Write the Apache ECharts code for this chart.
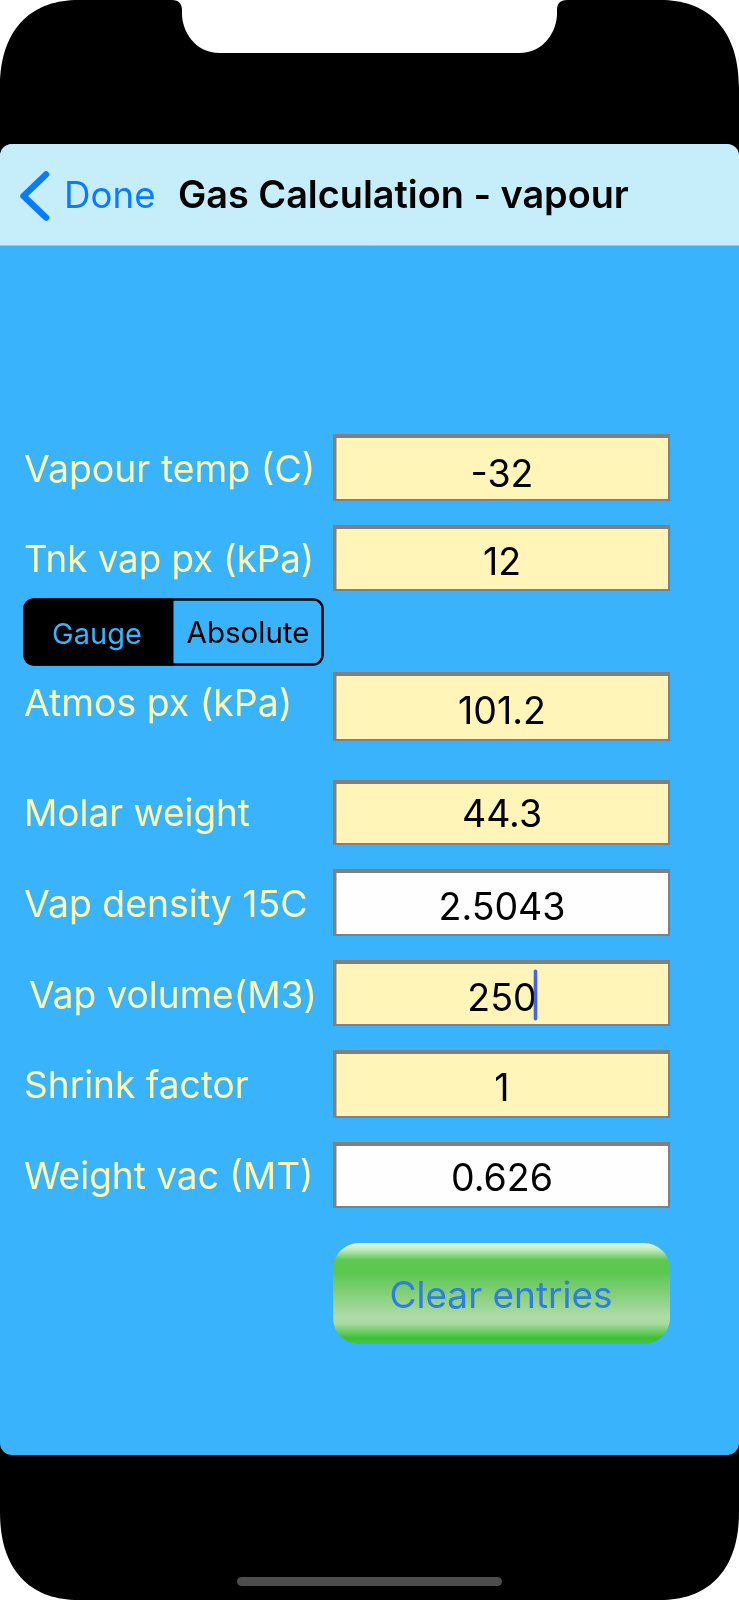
<!DOCTYPE html>
<html><head><meta charset="utf-8">
<style>html,body{margin:0;padding:0;background:#fff}#c{width:739px;height:1600px}</style>
<script src="https://cdn.jsdelivr.net/npm/echarts@6/dist/echarts.min.js"></script>
</head><body><div id="c"></div>
<script>
const labels = ["Vapour temp (C)","Tnk vap px (kPa)","Atmos px (kPa)","Molar weight","Vap density 15C","Vap volume(M3)","Shrink factor","Weight vac (MT)"];
const values = ["-32","12","101.2","44.3","2.5043","250","1","0.626"];
const computed = [false,false,false,false,true,false,false,true];
const segments = ["Gauge","Absolute"];
const title = "Gas Calculation - vapour";
const back = "Done";
const action = "Clear entries";

// layout of the rows, separate from the content above
const labelX = [24,24,24,24,24,29,24,24];
const labelFit = [1,0.98,1,0.987,1,0.99,0.99,0.99];
const labelY = [471,561,705,815,906,997,1087,1178];
const valueY = [476,564,713,816,909,1000,1090,1180];
const fieldTop = [434,525,672,780,869,960,1050,1142];
const fieldBottom = [501,591,741,845,936,1026,1118,1208];

const FONT = "Inter, 'Noto Sans', sans-serif";
echarts.graphic.registerShape("phone", echarts.graphic.extendPath(
 "M78 0L172 0C179 0 182 4 182 10L182 14C182 30 194 53 220 53L519 53C545 53 557 30 557 14L557 10C557 4 560 0 567 0L661 0C703 0 739 24 739 88L739 1512C739 1576 703 1600 661 1600L78 1600C36 1600 0 1576 0 1512L0 88C0 24 36 0 78 0Z",{}));

const txt=(text,x,y,size,fill,align,weight,sx)=>({type:"text",x,y,scaleX:sx||1,silent:true,style:{text,fill,fontFamily:FONT,fontSize:size,fontWeight:weight||400,align:align||"left",verticalAlign:"middle"}});
const els=[];
els.push({type:"phone",x:0,y:0,style:{fill:"#000"}});
els.push({type:"rect",shape:{x:0,y:144,width:739,height:1311,r:[12,12,12,12]},style:{fill:"#3ab3fd"}});
els.push({type:"rect",shape:{x:0,y:144,width:739,height:102,r:[12,12,0,0]},style:{fill:"#c6eefa"}});
els.push({type:"line",shape:{x1:0,y1:246,x2:739,y2:246},style:{stroke:"#58a9d8",lineWidth:1}});
els.push({type:"polyline",shape:{points:[[46,174.5],[23.5,196],[46,217.5]]},style:{stroke:"#0a7bff",lineWidth:6.5,lineCap:"round",lineJoin:"round",fill:null}});
els.push(txt(back,64,197,36.7,"#0a7bff"));
els.push(txt(title,178,197,37.8,"#000","left",600));
labels.forEach((l,i)=>{
  els.push(txt(l,labelX[i],labelY[i],37.4,"#fdf6b5","left",400,labelFit[i]));
  const t=fieldTop[i],b=fieldBottom[i];
  els.push({type:"rect",shape:{x:333,y:t,width:337,height:b-t},style:{fill:"#808080"}});
  els.push({type:"rect",shape:{x:336.5,y:t+4,width:331.5,height:b-t-6},style:{fill:computed[i]?"#fefefe":"#fff5b8"}});
  els.push(txt(values[i],502,valueY[i],37.5,"#000","center"));
});
els.push({type:"rect",shape:{x:533.7,y:969.5,width:3.6,height:51,r:1.8},style:{fill:"#4565e0"}});
els.push({type:"rect",shape:{x:24.5,y:599.5,width:298,height:65,r:9},style:{fill:"#3ab3fd",stroke:"#000",lineWidth:2.5}});
els.push({type:"rect",shape:{x:23.5,y:598.5,width:150,height:67,r:[10,0,0,10]},style:{fill:"#000"}});
els.push(txt(segments[0],97,635,29,"#3ab3fd","center"));
els.push(txt(segments[1],248,634,29.5,"#000","center"));
els.push({type:"rect",shape:{x:333,y:1243,width:337,height:101,r:26},style:{fill:new echarts.graphic.LinearGradient(0,0,0,1,[
 {offset:0,color:"#e2f5e0"},{offset:0.06,color:"#c5ecc2"},{offset:0.17,color:"#5cc851"},{offset:0.3,color:"#5cc851"},{offset:0.73,color:"#aedba6"},{offset:0.8,color:"#a8daa0"},{offset:0.94,color:"#3cc032"},{offset:1,color:"#48c43e"}])}});
els.push(txt(action,501,1297,37,"#2f7de0","center"));
els.push({type:"rect",shape:{x:237,y:1577,width:265,height:9,r:4.5},style:{fill:"#4d4d4d"}});

const chart=echarts.init(document.getElementById("c"),null,{renderer:"canvas"});
chart.setOption({animation:false,backgroundColor:"#fff",graphic:{elements:els}});
</script></body></html>
